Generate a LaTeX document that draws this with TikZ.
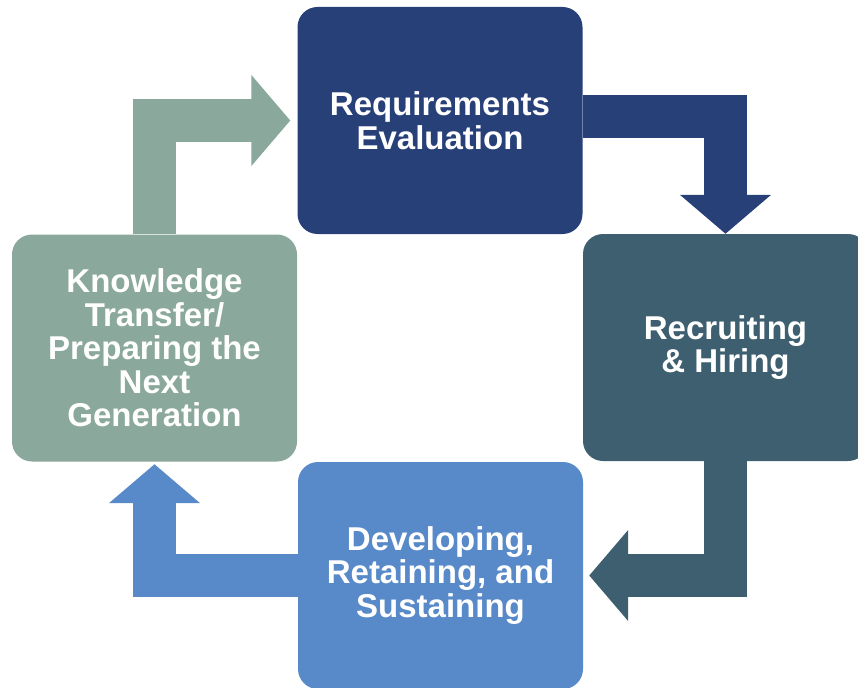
\documentclass[tikz,border=0pt]{standalone}
\usepackage{fontspec}
\setmainfont{Liberation Sans}
\usetikzlibrary{arrows.meta,positioning}
\definecolor{reqblue}{RGB}{40,64,120}
\definecolor{hireslate}{RGB}{62,95,111}
\definecolor{devblue}{RGB}{88,137,200}
\definecolor{knowgreen}{RGB}{138,168,155}
\tikzstyle{stage}=[rounded corners=20pt,minimum width=285pt,minimum height=227pt,inner sep=0pt,text=white,align=center,font=\bfseries\fontsize{33}{33.5}\selectfont]
\tikzstyle{flow}=[line width=43pt,-{Triangle[width=89pt,length=39pt]}]

\begin{document}
\begin{tikzpicture}[x=1pt,y=-1pt]
\path[use as bounding box,clip] (0,0) rectangle (858,687);
\node[stage,fill=reqblue] (R) at (440,120.5) {Requirements\\Evaluation};
\node[stage,fill=hireslate] (H) at (725.5,347.5) {Recruiting\\\& Hiring};
\node[stage,fill=devblue] (D) at (440.5,575.5) {Developing,\\Retaining, and\\Sustaining};
\node[stage,fill=knowgreen] (K) at (154.5,348) {Knowledge\\Transfer/\\Preparing the\\Next\\Generation};
\draw[flow,reqblue]([yshift=3.5pt]R.east) -| (H.north);
\draw[flow,hireslate](H.south) |- ([xshift=6pt]D.east);
\draw[flow,devblue](D.west) -| ([yshift=-2.5pt]K.south);
\draw[flow,knowgreen](K.north) |- ([xshift=-7pt]R.west);
\end{tikzpicture}
\end{document}
